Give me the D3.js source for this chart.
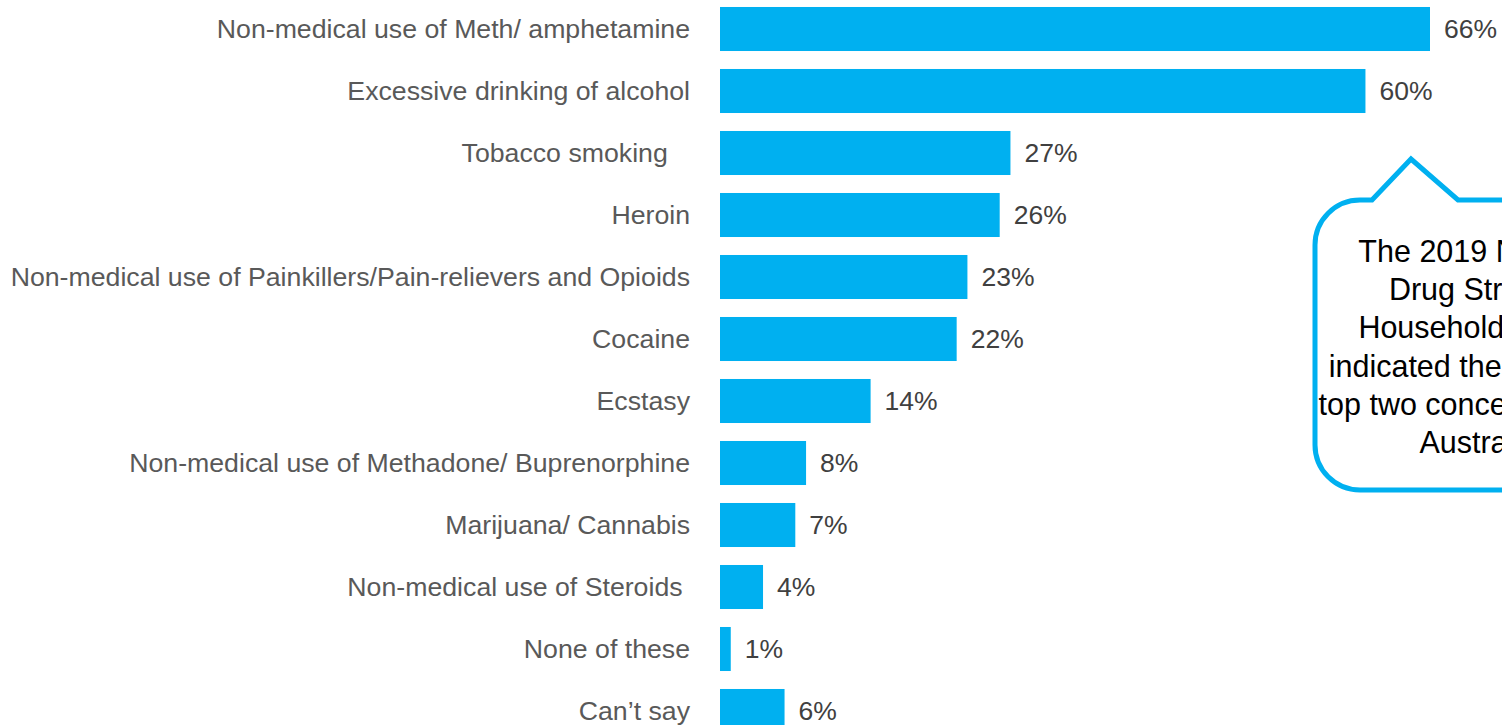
<!DOCTYPE html>
<html>
<head>
<meta charset="utf-8">
<script src="https://cdn.jsdelivr.net/npm/d3@7"></script>
<style>
  html, body { margin: 0; padding: 0; background: #ffffff; overflow: hidden; }
  svg { display: block; }
  text { font-family: "Liberation Sans", Arial, sans-serif; white-space: pre; }
</style>
</head>
<body>
<svg id="chart" width="1502" height="725"></svg>
<script>
// Survey categories, top to bottom
const categories = [
  "Non-medical use of Meth/ amphetamine",
  "Excessive drinking of alcohol",
  "Tobacco smoking   ",
  "Heroin",
  "Non-medical use of Painkillers/Pain-relievers and Opioids",
  "Cocaine",
  "Ecstasy",
  "Non-medical use of Methadone/ Buprenorphine",
  "Marijuana/ Cannabis",
  "Non-medical use of Steroids ",
  "None of these",
  "Can\u2019t say"
];

// Share of respondents (%)
const values = [66, 60, 27, 26, 23, 22, 14, 8, 7, 4, 1, 6];

// Callout note lines
const noteLines = [
  "The 2019 National",
  "Drug Strategy",
  "Household Survey",
  "indicated these are the",
  "top two concerns across",
  "Australia."
];

const BLUE = "#00B0F0";
const svg = d3.select("#chart");

const x = d3.scaleLinear().domain([0, 66]).range([720, 1430]);
const y = d3.scaleBand()
  .domain(categories)
  .range([-2, 742])
  .paddingInner(0.29)
  .paddingOuter(0.145);

// Bars
svg.append("g").selectAll("rect")
  .data(categories)
  .join("rect")
  .attr("x", x(0))
  .attr("y", d => y(d))
  .attr("width", (d, i) => x(values[i]) - x(0))
  .attr("height", y.bandwidth())
  .attr("fill", BLUE);

// Category labels (left axis, no line or ticks)
const axis = d3.axisLeft(y).tickSize(0).tickPadding(0);
const gAxis = svg.append("g")
  .attr("transform", `translate(${x(0) - 30},0)`)
  .call(axis);
gAxis.select(".domain").remove();
gAxis.selectAll("text")
  .attr("font-family", "Liberation Sans, Arial, sans-serif")
  .attr("font-size", 26.7)
  .attr("fill", "#595959")
  .attr("dy", "0.35em")
  .style("white-space", "pre");

// Value labels
svg.append("g").selectAll("text")
  .data(categories)
  .join("text")
  .attr("x", (d, i) => x(values[i]) + 14)
  .attr("y", d => y(d) + y.bandwidth() / 2)
  .attr("dy", "0.35em")
  .attr("font-size", 26.5)
  .attr("fill", "#404040")
  .text((d, i) => values[i] + "%");

// Speech-bubble callout
const bx0 = 1315, by0 = 200, bx1 = 1651, by1 = 490, r = 45;
const p = d3.path();
p.moveTo(bx0, by0 + r);
p.arcTo(bx0, by0, bx0 + r, by0, r);
p.lineTo(1372, by0);
p.lineTo(1411, 159);
p.lineTo(1458, by0);
p.lineTo(bx1 - r, by0);
p.arcTo(bx1, by0, bx1, by0 + r, r);
p.lineTo(bx1, by1 - r);
p.arcTo(bx1, by1, bx1 - r, by1, r);
p.lineTo(bx0 + r, by1);
p.arcTo(bx0, by1, bx0, by1 - r, r);
p.closePath();

svg.append("path")
  .attr("d", p.toString())
  .attr("fill", "#ffffff")
  .attr("stroke", BLUE)
  .attr("stroke-width", 5)
  .attr("stroke-linejoin", "miter");

svg.append("g").selectAll("text")
  .data(noteLines)
  .join("text")
  .attr("x", 1483)
  .attr("y", (d, i) => 262 + i * 38.2)
  .attr("text-anchor", "middle")
  .attr("font-size", 30.5)
  .attr("fill", "#000000")
  .text(d => d);
</script>
</body>
</html>
